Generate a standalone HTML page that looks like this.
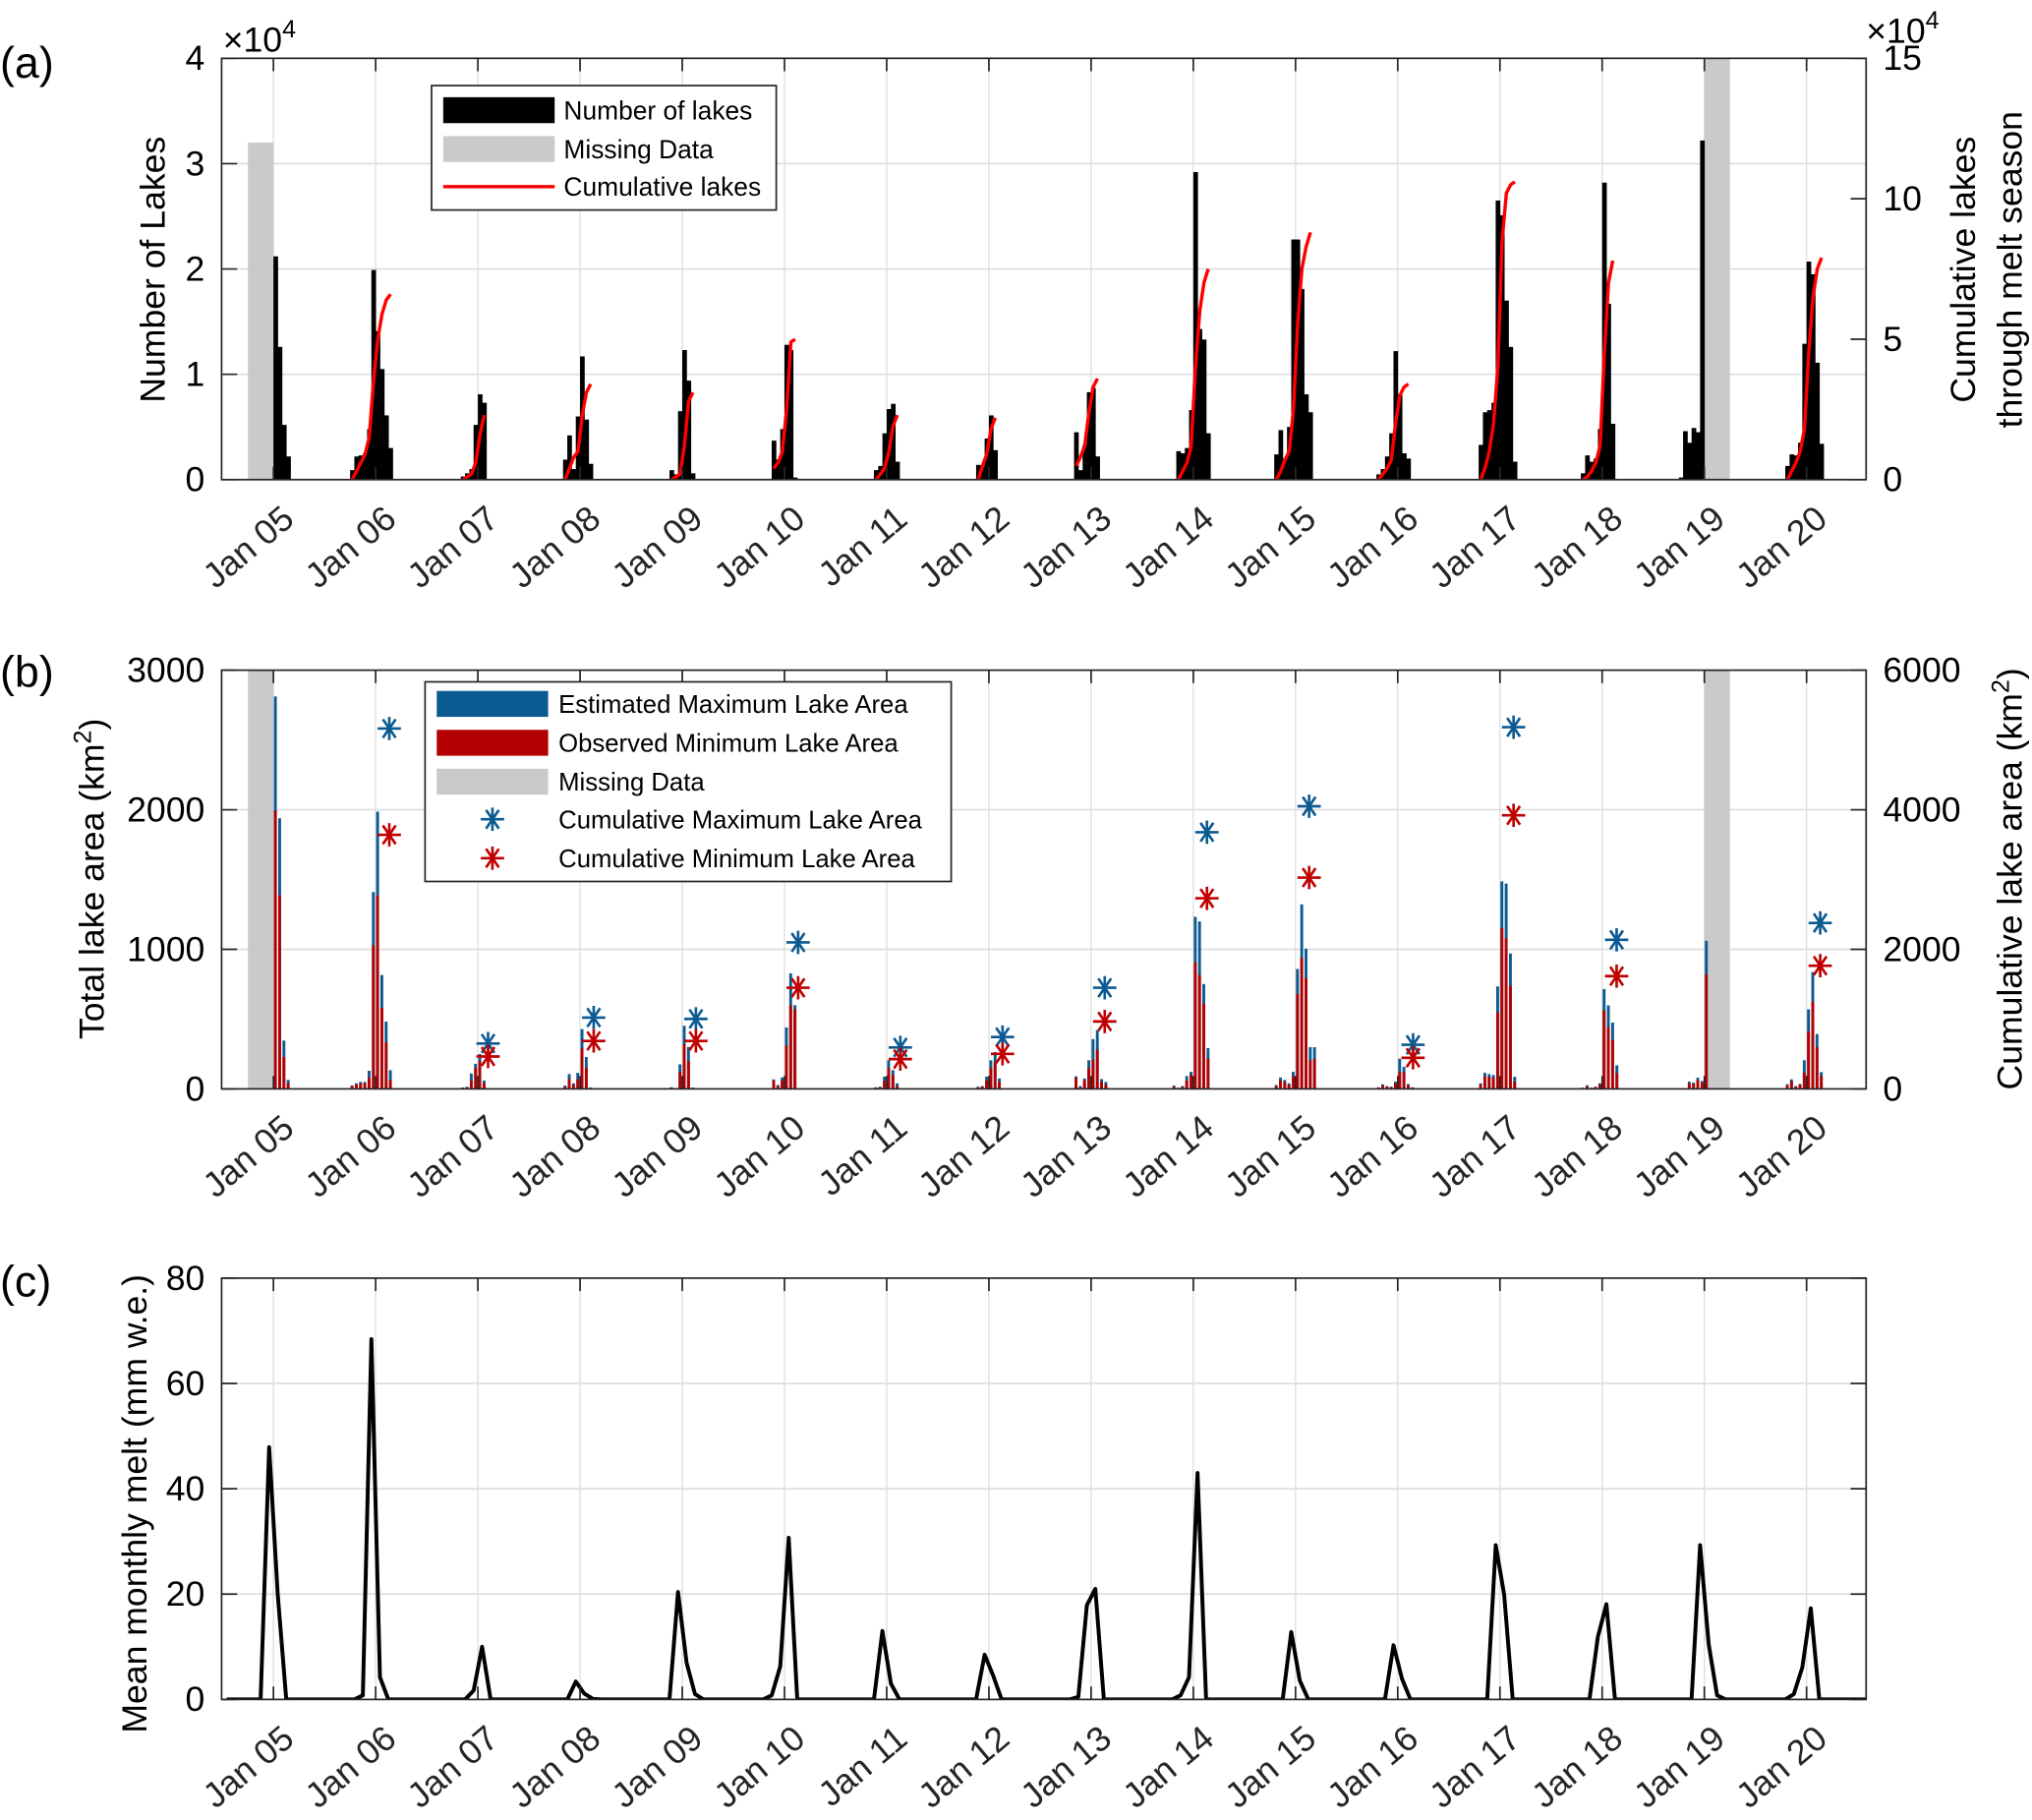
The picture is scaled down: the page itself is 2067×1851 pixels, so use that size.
<!DOCTYPE html>
<html><head><meta charset="utf-8"><style>
html,body{margin:0;padding:0;background:#fff;}
svg{display:block;font-family:"Liberation Sans",Arial,sans-serif;}
</style></head><body>
<svg id="fig" width="2067" height="1851" viewBox="0 0 1568 1404" preserveAspectRatio="none" xmlns="http://www.w3.org/2000/svg">
<defs>
<clipPath id="clipA"><rect x="171" y="45" width="1269" height="325"/></clipPath>
<clipPath id="clipB"><rect x="171" y="517" width="1269" height="323"/></clipPath>
<clipPath id="clipC"><rect x="171" y="986" width="1269" height="325"/></clipPath>
</defs>
</svg>
<script>
// ---------- shared categories ----------
const yearLabels = ['Jan 05','Jan 06','Jan 07','Jan 08','Jan 09','Jan 10','Jan 11','Jan 12','Jan 13','Jan 14','Jan 15','Jan 16','Jan 17','Jan 18','Jan 19','Jan 20'];
// ---------- panel (a) data: lake counts (x10^4), semi-monthly bars ----------
const lakeStart = [0,-3,-2,-2,-1.5,-1.5,-1.5,-1.5,-2,-2,-2.5,-2.5,-2.5,-2.5,-3,-2.5];
const lakeCounts = [
 [2.12,1.26,0.52,0.22],
 [0.09,0.22,0.23,0.25,0.48,1.99,1.41,1.05,0.61,0.30],
 [0.03,0.06,0.1,0.52,0.81,0.73],
 [0.19,0.42,0.1,0.6,1.17,0.57,0.15],
 [0.09,0.05,0.65,1.23,0.94,0.06],
 [0.37,0.19,0.48,1.28,1.23,0.02],
 [0.09,0.13,0.44,0.67,0.72,0.17],
 [0.14,0.13,0.39,0.61,0.28],
 [0.45,0.09,0.33,0.83,0.87,0.22],
 [0.27,0.25,0.3,0.66,2.92,1.43,1.33,0.44],
 [0.24,0.47,0.2,0.5,2.28,2.28,1.81,0.81,0.64],
 [0.05,0.1,0.22,0.44,1.22,0.81,0.25,0.2],
 [0.33,0.64,0.66,0.73,2.65,2.51,1.7,1.26,0.17],
 [0.06,0.23,0.17,0.2,0.48,2.82,1.67,0.53],
 [0.02,0.46,0.35,0.49,0.45,3.22],
 [0.13,0.24,0.23,0.35,1.29,2.07,1.95,1.11,0.34]
];
const cumLakes = [
 null,
 [0,0.3,0.6,0.9,1.5,3.5,5.0,5.9,6.4,6.6],
 [0,0.1,0.2,0.6,1.6,2.3],
 [0,0.4,0.8,1.0,2.3,3.1,3.4],
 [0,0.1,0.2,1.2,2.8,3.1],
 [0.4,0.6,1.0,2.5,4.9,5.0],
 [0,0.2,0.4,1.0,1.9,2.3],
 [0,0.5,0.9,1.8,2.2],
 [0.5,0.8,1.2,2.4,3.3,3.6],
 [0,0.3,0.6,1.2,4.0,6.0,7.0,7.5],
 [0,0.3,0.7,1.0,2.5,5.5,7.5,8.3,8.8],
 [0,0.2,0.4,0.7,2.0,3.0,3.3,3.4],
 [0,0.4,1.0,2.0,4.0,8.5,10.2,10.5,10.6],
 [0,0.1,0.3,0.6,1.2,4.5,7.0,7.8],
 null,
 [0,0.3,0.6,1.0,1.8,4.5,6.5,7.5,7.9]
];
const missingA = [[-3,0,3.2],[168,171,4]];
const aLeftTicks = [0,1,2,3,4];
const aRightTicks = [0,5,10,15];
// ---------- panel (b) data: lake areas (km2) ----------
const areaStart = [0,-3,-2,-2,-1.5,-1.5,-1.5,-1.5,-2,-2.5,-2.5,-2.5,-2.5,-2.5,-2,-2.5];
const maxArea = [
 [2812,1939,346,64],
 [25,40,50,50,130,1410,1986,816,482,134],
 [10,15,110,180,250,60],
 [24,106,40,115,428,228,10],
 [12,5,176,452,300,10],
 [68,28,82,440,828,600],
 [12,16,88,205,134,40],
 [16,20,88,205,264,75],
 [90,20,75,205,357,421,70,50],
 [24,9,20,92,122,1233,1200,751,292],
 [28,82,64,40,122,859,1322,1005,299,299],
 [12,33,20,16,52,216,158,35,12],
 [40,115,106,99,734,1487,1471,970,87],
 [9,26,9,16,40,715,598,475,169],
 [52,45,80,56,1061],
 [33,68,20,35,205,570,837,393,120]
];
const minArea = [
 [1993,1386,228,40],
 [20,30,40,40,80,1028,1386,581,334,64],
 [5,10,60,150,200,40],
 [15,70,30,70,290,150,5],
 [8,3,120,320,200,5],
 [60,20,60,310,600,570],
 [8,10,55,150,100,20],
 [10,14,60,150,190,50],
 [80,10,60,150,210,280,50,30],
 [15,5,15,60,100,906,816,609,216],
 [20,60,50,30,90,680,939,793,205,216],
 [8,25,15,12,40,120,120,25,8],
 [30,90,85,80,546,1151,1080,739,52],
 [5,18,5,12,30,562,440,351,115],
 [40,35,65,45,821],
 [25,55,15,30,115,412,624,299,92]
];
const cumMax = [null,5164,650,1022,1003,2099,594,743,1449,3678,4050,632,5183,2136,null,2378];
const cumMin = [null,3641,464,687,687,1449,427,502,966,2731,3028,446,3920,1616,null,1765];
const starT = [0,1.6,1.2,1.6,1.6,1.6,1.6,1.6,1.6,1.6,1.6,1.8,1.6,1.7,0,1.6];
const missingB = [[-3,0],[168,171]];
const bLeftTicks = [0,1000,2000,3000];
const bRightTicks = [0,2000,4000,6000];
// ---------- panel (c) data: mean monthly melt (mm w.e.) ----------
const meltNov = [0,0.8,0,0,0,0.8,0,0,0.5,0.8,0,0,0,0,0,1.0];
const meltDec = [47.9,68.4,1.7,3.4,20.4,6.3,13.0,8.5,17.9,4.2,12.8,10.3,29.3,11.9,29.3,6.1];
const meltJan = [20,4.2,10.0,1.1,7.0,30.7,3.0,4.5,21.0,43.0,3.6,3.9,19.9,18.1,10.5,17.3];
const meltFeb = [0,0,0,0.1,1.0,0,0,0,0,0,0,0,0,0,0.8,0];
const cTicks = [0,20,40,60,80];

// ---------- helpers ----------
const NS='http://www.w3.org/2000/svg';
const svg=document.getElementById('fig');
function mk(tag,attrs,parent){const e=document.createElementNS(NS,tag);for(const k in attrs)e.setAttribute(k,attrs[k]);(parent||svg).appendChild(e);return e;}
const X0=171,X1=1440;
function X(t){return 211+t*78.87/12;}
const AX='#262626';
const panels={
 a:{top:45,bot:370},
 b:{top:517,bot:840},
 c:{top:986,bot:1311}
};
function yA(v){return 370-v*(325/4);}
function yAR(v){return 370-v*(325/15);}
function yB(v){return 840-v*(323/3000);}
function yBR(v){return 840-v*(323/6000);}
function yC(v){return 1311-v*(325/80);}

function gridAndFrame(p,leftTicks,yf,rightTicks,yrf,key){
 const g=mk('g',{});
 
 
 yearLabels.forEach((lab,i)=>{
  const x=X(12*i);
  const l=mk('line',{x1:x,x2:x,y1:p.top,y2:p.bot,stroke:'#dedede','stroke-width':1},g);
  
  
 });
 leftTicks.forEach(v=>{
  const y=yf(v);
  if(v>0 && y>p.top+1){
   const l=mk('line',{x1:X0,x2:X1,y1:y,y2:y,stroke:'#dedede','stroke-width':1.3},g);
   
   
  }
 });
}
function frameTicks(p,leftTicks,yf,rightTicks,yrf,key,showRightLabels){
 const g=mk('g',{});
 
 
 mk('rect',{x:X0,y:p.top,width:X1-X0,height:p.bot-p.top,fill:'none',stroke:AX,'stroke-width':1.3},g);
 yearLabels.forEach((lab,i)=>{
  const x=X(12*i);
  mk('line',{x1:x,x2:x,y1:p.bot,y2:p.bot-10,stroke:AX,'stroke-width':1.3},g);
  mk('line',{x1:x,x2:x,y1:p.top,y2:p.top+10,stroke:AX,'stroke-width':1.3},g);
  const t=mk('text',{transform:`translate(${x+5},${p.bot+18}) rotate(-40)`,'text-anchor':'end','dominant-baseline':'hanging','font-size':27,fill:AX},g);
  t.textContent=lab;
  
  
 });
 leftTicks.forEach(v=>{
  const y=yf(v);
  mk('line',{x1:X0,x2:X0+12,y1:y,y2:y,stroke:AX,'stroke-width':1.3},g);
  const t=mk('text',{x:X0-13,y:y+9,'text-anchor':'end','font-size':27,fill:'#000'},g);
  t.textContent=String(v);
  
  
 });
 (rightTicks||leftTicks).forEach(v=>{
  const y=(yrf||yf)(v);
  mk('line',{x1:X1,x2:X1-12,y1:y,y2:y,stroke:AX,'stroke-width':1.3},g);
  if(showRightLabels){
   const t=mk('text',{x:X1+13,y:y+9,'text-anchor':'start','font-size':27,fill:'#000'},g);
   t.textContent=String(v);
   
   
  }
 });
}
function label(txt,x,y,rot,size,name,anchor){
 const t=mk('text',{x:0,y:0,transform:`translate(${x},${y})`+(rot?` rotate(${rot})`:''),'text-anchor':anchor||'middle','font-size':size,fill:'#000'});
 
 
 return t;
}

// ================= PANEL A =================
gridAndFrame(panels.a,aLeftTicks,yA,aRightTicks,yAR,'a');
const gA=mk('g',{'clip-path':'url(#clipA)'});


missingA.forEach(m=>{
 const r=mk('rect',{x:X(m[0]),y:yA(m[2]),width:X(m[1])-X(m[0]),height:370-yA(m[2]),fill:'#cacaca'},gA);
 
 
});
lakeCounts.forEach((vals,s)=>{
 vals.forEach((v,i)=>{
  const t=12*s+lakeStart[s]+0.5*i;
  const x=X(t), w=X(t+0.5)-x;
  const r=mk('rect',{x:x,y:yA(v),width:w+0.3,height:370-yA(v),fill:'#000'},gA);
  
  
 });
});
cumLakes.forEach((vals,s)=>{
 if(!vals)return;
 const pts=vals.map((v,i)=>{const t=12*s+lakeStart[s]+0.5*i+0.25;return X(t).toFixed(1)+','+yAR(v).toFixed(1);});
 const pl=mk('polyline',{points:pts.join(' '),fill:'none',stroke:'#ff0000','stroke-width':2.6,'stroke-linejoin':'round'},gA);
 
 
});
frameTicks(panels.a,aLeftTicks,yA,aRightTicks,yAR,'a',true);
let ex=label('',172,40,0,27,'left-exponent','start');
ex.innerHTML='×10<tspan dy="-11" font-size="19">4</tspan>';
ex=label('',1440,33,0,27,'right-exponent','start');
ex.innerHTML='×10<tspan dy="-11" font-size="19">4</tspan>';
label('Number of Lakes',127,208,-90,27,'y-axis-title-a').textContent='Number of Lakes';
label('',1524,208,-90,27,'y2-axis-title-a-line1').textContent='Cumulative lakes';
label('',1560,208,-90,27,'y2-axis-title-a-line2').textContent='through melt season';
label('',0,60,0,34,'panel-label-a','start').textContent='(a)';
(function(){
 const g=mk('g',{});
 
 
 mk('rect',{x:333,y:66,width:266,height:96,fill:'#fff',stroke:AX,'stroke-width':1.3},g);
 mk('rect',{x:342,y:75,width:86,height:20,fill:'#000'},g);
 mk('rect',{x:342,y:105,width:86,height:20,fill:'#cacaca'},g);
 mk('line',{x1:342,x2:428,y1:144,y2:144,stroke:'#ff0000','stroke-width':2.6},g);
 [['Number of lakes',85],['Missing Data',115],['Cumulative lakes',144]].forEach(e=>{
  const t=mk('text',{x:435,y:e[1]+7,'font-size':20,fill:'#000'},g);
  t.textContent=e[0];
  
  
 });
})();

// ================= PANEL B =================
gridAndFrame(panels.b,bLeftTicks,yB,bRightTicks,yBR,'b');
const gB=mk('g',{'clip-path':'url(#clipB)'});


missingB.forEach(m=>{
 const r=mk('rect',{x:X(m[0]),y:517,width:X(m[1])-X(m[0]),height:323,fill:'#cacaca'},gB);
 
 
});
function star(cx,cy,color,g,name){
 const s=mk('g',{stroke:color,'stroke-width':2,fill:'none'},g);
 
 
 const r=9;
 mk('line',{x1:cx-r,x2:cx+r,y1:cy,y2:cy},s);
 mk('line',{x1:cx,x2:cx,y1:cy-r,y2:cy+r},s);
 mk('line',{x1:cx-r*0.55,x2:cx+r*0.55,y1:cy-r*0.8,y2:cy+r*0.8},s);
 mk('line',{x1:cx-r*0.55,x2:cx+r*0.55,y1:cy+r*0.8,y2:cy-r*0.8},s);
}
maxArea.forEach((vals,s)=>{
 vals.forEach((v,i)=>{
  const t=12*s+areaStart[s]+0.5*i;
  const x=X(t)+0.4;
  const r=mk('rect',{x:x,y:yB(v),width:2.2,height:840-yB(v),fill:'#0b5a91'},gB);
  
  
  const mv=minArea[s][i];
  const r2=mk('rect',{x:x,y:yB(mv),width:2.2,height:840-yB(mv),fill:'#b40000'},gB);
  
  
 });
});
cumMax.forEach((v,s)=>{
 if(v==null)return;
 const cx=X(12*s+starT[s]);
 star(cx,yBR(v),'#0b5a91',gB,'cumulative-max-marker');
 star(cx,yBR(cumMin[s]),'#c00000',gB,'cumulative-min-marker');
});
frameTicks(panels.b,bLeftTicks,yB,bRightTicks,yBR,'b',true);
let tb=label('',80,678,-90,27,'y-axis-title-b');
tb.innerHTML='Total lake area (km<tspan dy="-10" font-size="19">2</tspan><tspan dy="10">)</tspan>';
tb=label('',1560,678,-90,27,'y2-axis-title-b');
tb.innerHTML='Cumulative lake area (km<tspan dy="-10" font-size="19">2</tspan><tspan dy="10">)</tspan>';
label('',0,530,0,34,'panel-label-b','start').textContent='(b)';
(function(){
 const g=mk('g',{});
 
 
 mk('rect',{x:328,y:526,width:406,height:154,fill:'#fff',stroke:AX,'stroke-width':1.3},g);
 mk('rect',{x:337,y:533,width:86,height:20,fill:'#0b5a91'},g);
 mk('rect',{x:337,y:563,width:86,height:20,fill:'#b40000'},g);
 mk('rect',{x:337,y:593,width:86,height:20,fill:'#cacaca'},g);
 star(380,632,'#0b5a91',g,'legend-max-marker');
 star(380,662,'#c00000',g,'legend-min-marker');
 [['Estimated Maximum Lake Area',543],['Observed Minimum Lake Area',573],['Missing Data',603],['Cumulative Maximum Lake Area',632],['Cumulative Minimum Lake Area',662]].forEach(e=>{
  const t=mk('text',{x:431,y:e[1]+7,'font-size':19.5,fill:'#000'},g);
  t.textContent=e[0];
  
  
 });
})();

// ================= PANEL C =================
gridAndFrame(panels.c,cTicks,yC,null,null,'c');
const gC=mk('g',{'clip-path':'url(#clipC)'});


(function(){
 const pts=[];
 for(let m=-6;m<=188;m++){
  let v=0;
  const mon=((m%12)+12)%12;
  if(mon===10){v=meltNov[(m+2)/12]||0;}
  else if(mon===11){v=meltDec[(m+1)/12]||0;}
  else if(mon===0){v=meltJan[m/12]||0;}
  else if(mon===1){v=meltFeb[(m-1)/12]||0;}
  pts.push(X(m+0.5).toFixed(1)+','+yC(v).toFixed(1));
 }
 const pl=mk('polyline',{points:pts.join(' '),fill:'none',stroke:'#000','stroke-width':3,'stroke-linejoin':'round'},gC);
 
 
})();
frameTicks(panels.c,cTicks,yC,null,null,'c',false);
label('',113,1160,-90,27,'y-axis-title-c').textContent='Mean monthly melt (mm w.e.)';
label('',0,1000,0,34,'panel-label-c','start').textContent='(c)';
</script>
</body></html>
